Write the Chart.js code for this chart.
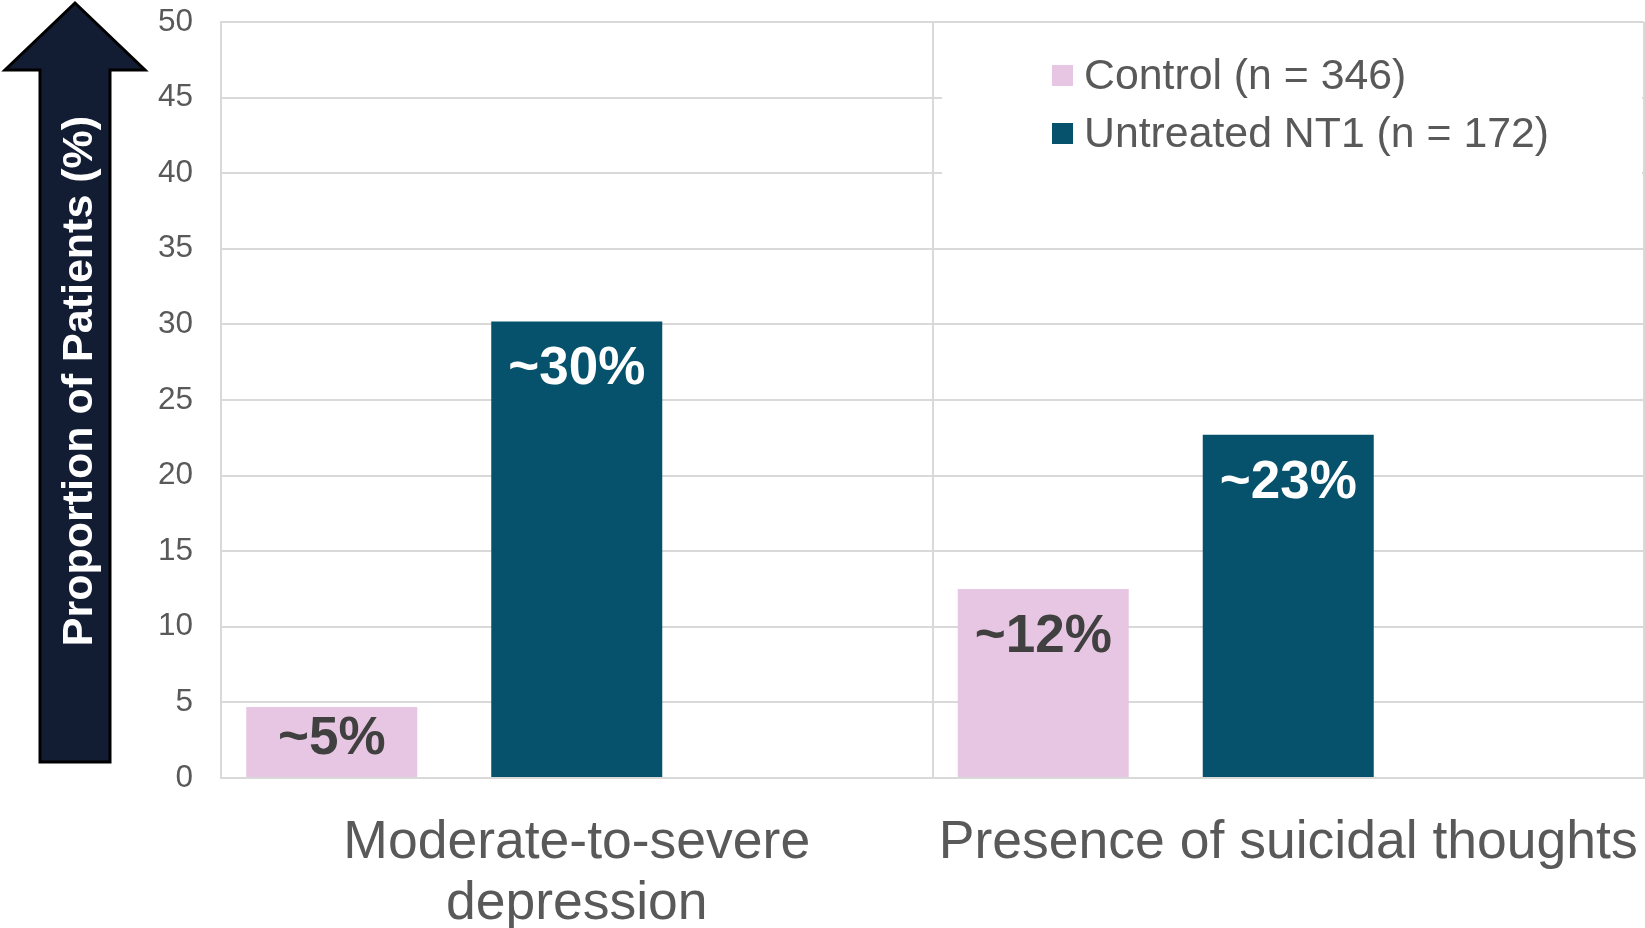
<!DOCTYPE html>
<html>
<head>
<meta charset="utf-8">
<script src="https://cdn.jsdelivr.net/npm/chart.js@4.4.1/dist/chart.umd.min.js"></script>
<style>
  html, body { margin: 0; padding: 0; background: #fff; }
  #wrap { width: 1645px; height: 928px; }
</style>
</head>
<body>
<div id="wrap"><canvas id="chart" width="1645" height="928"></canvas></div>
<script>
// dados do gráfico
const categories = [['Moderate-to-severe', 'depression'], 'Presence of suicidal thoughts'];
const controlValues = [4.7, 12.5];
const nt1Values = [30.2, 22.7];
const controlLabels = ['~5%', '~12%'];
const nt1Labels = ['~30%', '~23%'];
const seriesNames = ['Control (n = 346)', 'Untreated NT1 (n = 172)'];
const yTicks = [0, 5, 10, 15, 20, 25, 30, 35, 40, 45, 50];
const yTitle = 'Proportion of Patients (%)';

const FONT = "'Liberation Sans', Arial, sans-serif";
const GRID = '#d9d9d9';

// seta do eixo Y com o título
const arrowPlugin = {
    id: 'arrowTitle',
    beforeDraw(chart) {
        const ctx = chart.ctx;
        ctx.save();
        ctx.beginPath();
        ctx.moveTo(75, 3);
        ctx.lineTo(145, 70);
        ctx.lineTo(110, 70);
        ctx.lineTo(110, 762);
        ctx.lineTo(40, 762);
        ctx.lineTo(40, 70);
        ctx.lineTo(5, 70);
        ctx.closePath();
        ctx.fillStyle = '#121c33';
        ctx.fill();
        ctx.lineWidth = 3;
        ctx.strokeStyle = '#000';
        ctx.stroke();

        ctx.translate(92, 381);
        ctx.rotate(-Math.PI / 2);
        ctx.fillStyle = '#fff';
        ctx.font = 'bold 43px ' + FONT;
        ctx.textAlign = 'center';
        ctx.textBaseline = 'alphabetic';
        ctx.fillText(yTitle, 0, 0);
        ctx.restore();
    }
};

// rótulos dentro das barras + legenda
const labelPlugin = {
    id: 'barLabels',
    afterDatasetsDraw(chart) {
        const ctx = chart.ctx;
        const area = chart.chartArea;
        ctx.save();
        ctx.font = 'bold 53px ' + FONT;
        ctx.textAlign = 'center';
        ctx.textBaseline = 'alphabetic';
        [[0, controlLabels, '#404040'], [1, nt1Labels, '#ffffff']].forEach(([di, texts, color]) => {
            chart.getDatasetMeta(di).data.forEach((bar, i) => {
                const y = Math.min(bar.y + 63, bar.base - 23);
                ctx.fillStyle = color;
                ctx.fillText(texts[i], bar.x, y);
            });
        });

        // legenda sobre a área do gráfico
        ctx.fillStyle = '#fff';
        ctx.fillRect(942, area.top + 2, area.right - 944, 190);
        ctx.font = '42.8px ' + FONT;
        ctx.textAlign = 'left';
        ctx.textBaseline = 'middle';
        seriesNames.forEach((name, i) => {
            const y = 76 + i * 58;
            ctx.fillStyle = chart.data.datasets[i].backgroundColor;
            ctx.fillRect(1052, y - 11, 21, 21);
            ctx.fillStyle = '#595959';
            ctx.fillText(name, 1084, y + 1);
        });
        ctx.restore();
    }
};

const ctx = document.getElementById('chart').getContext('2d');
const chart = new Chart(ctx, {
    type: 'bar',
    data: {
        labels: categories,
        datasets: [
            {
                label: seriesNames[0],
                data: controlValues,
                backgroundColor: '#e6c6e2'
            },
            {
                label: seriesNames[1],
                data: nt1Values,
                backgroundColor: '#06516b'
            },
            {
                // série vazia (espaço à direita, como no original)
                label: '',
                data: [null, null],
                backgroundColor: 'rgba(0,0,0,0)'
            }
        ]
    },
    options: {
        responsive: false,
        animation: false,
        categoryPercentage: 1.033,
        barPercentage: 0.698,
        layout: { padding: { top: 22, right: 1, left: 0, bottom: 0 } },
        plugins: {
            legend: { display: false },
            tooltip: { enabled: false }
        },
        scales: {
            x: {
                offset: true,
                grid: { display: true, color: GRID, lineWidth: 2, offset: true, drawTicks: false },
                border: { display: true, color: GRID, width: 2 },
                ticks: {
                    color: '#595959',
                    padding: 35,
                    maxRotation: 0,
                    minRotation: 0,
                    font: { family: FONT, size: 53.5, lineHeight: 1.14 }
                },
                afterFit(scale) {
                    scale.height = 150;
                    scale.paddingLeft = 0;
                    scale.paddingRight = 0;
                }
            },
            y: {
                min: 0,
                max: 50,
                afterBuildTicks(scale) { scale.ticks = yTicks.map(v => ({ value: v })); },
                grid: { color: GRID, lineWidth: 2, drawTicks: false },
                border: { display: true, color: GRID, width: 2 },
                ticks: {
                    color: '#595959',
                    padding: 28,
                    font: { family: FONT, size: 31.5 }
                },
                afterFit(scale) {
                    scale.width = 221;
                    scale.paddingTop = 0;
                    scale.paddingBottom = 0;
                }
            }
        }
    },
    plugins: [arrowPlugin, labelPlugin]
});
</script>
</body>
</html>
